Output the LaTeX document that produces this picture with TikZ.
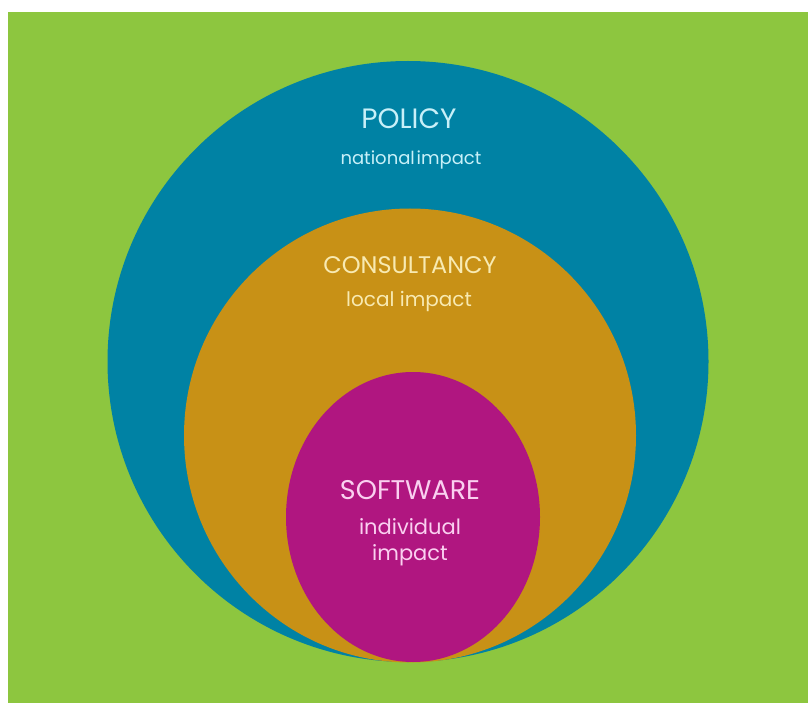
\documentclass[tikz,border=0pt]{standalone}
\usepackage{fontspec}
\setmainfont{Poppins}
\definecolor{bggreen}{RGB}{141,198,63}
\definecolor{ringblue}{RGB}{0,130,164}
\definecolor{ringgold}{RGB}{200,145,22}
\definecolor{ringmag}{RGB}{176,22,128}
\definecolor{txtblue}{RGB}{200,240,248}
\definecolor{txtgold}{RGB}{248,234,178}
\definecolor{txtmag}{RGB}{250,208,240}
\begin{document}
\begin{tikzpicture}[x=1pt,y=-1pt,
  lbl/.style={inner sep=0pt, align=center}]
\useasboundingbox (0,0) rectangle (808,703);
\fill[white] (0,0) rectangle (808,703);
\fill[bggreen] (8,12) rectangle (808,703);
\fill[ringblue] (408,361.5) ellipse [x radius=300.5, y radius=300.5];
\fill[ringgold] (410,435.5) ellipse [x radius=226, y radius=227];
\fill[ringmag] (413,517) ellipse [x radius=127, y radius=145];
\node[lbl, text=txtblue, font=\fontsize{28}{32}\selectfont] (policy) at (409,119) {POLICY};
\node[lbl, text=txtblue, font=\fontsize{18}{22}\selectfont] (national) at (411,160) {national\hspace{0.1em}impact};
\node[lbl, text=txtgold, font=\fontsize{24}{28}\selectfont] (consult) at (410,265) {CONSULTANCY};
\node[lbl, text=txtgold, font=\fontsize{20}{24}\selectfont] (local) at (409,301) {local impact};
\node[lbl, text=txtmag, font=\fontsize{27}{31}\selectfont] (soft) at (410,490) {SOFTWARE};
\node[lbl, text=txtmag, font=\fontsize{21}{26}\selectfont] (indiv) at (410,542) {individual\\impact};
\end{tikzpicture}
\end{document}
